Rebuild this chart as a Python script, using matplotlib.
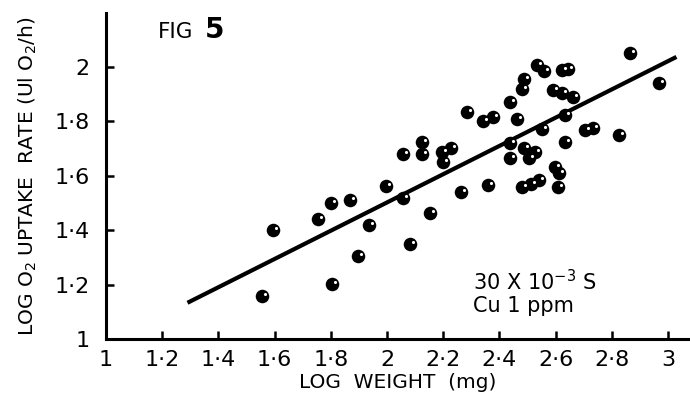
import matplotlib
matplotlib.use("Agg")
import matplotlib.pyplot as plt
import matplotlib.transforms as mtransforms
import numpy as np

# ---- data ----
log_weight = [1.555, 1.594, 1.754, 1.801, 1.868, 1.936, 1.897, 1.804, 1.996, 2.057,
              2.153, 2.082, 2.057, 2.125, 2.125, 2.196, 2.228, 2.199, 2.263, 2.285,
              2.342, 2.377, 2.359, 2.438, 2.463, 2.438, 2.438, 2.488, 2.480, 2.534,
              2.559, 2.623, 2.644, 2.591, 2.623, 2.662, 2.633, 2.552, 2.633, 2.488,
              2.527, 2.505, 2.480, 2.512, 2.541, 2.598, 2.612, 2.609, 2.705, 2.733,
              2.826, 2.865, 2.968]
log_uptake = [1.158, 1.401, 1.441, 1.500, 1.511, 1.419, 1.305, 1.202, 1.562, 1.518,
              1.463, 1.349, 1.680, 1.724, 1.680, 1.688, 1.702, 1.651, 1.540, 1.835,
              1.801, 1.816, 1.566, 1.871, 1.809, 1.721, 1.665, 1.956, 1.919, 2.007,
              1.985, 1.989, 1.993, 1.915, 1.904, 1.890, 1.824, 1.772, 1.724, 1.702,
              1.688, 1.665, 1.559, 1.570, 1.585, 1.632, 1.610, 1.559, 1.768, 1.776,
              1.750, 2.051, 1.941]

fit_slope = 0.5195
fit_intercept = 0.463
fit_x_range = [1.29, 3.03]

x_ticks = [1, 1.2, 1.4, 1.6, 1.8, 2, 2.2, 2.4, 2.6, 2.8, 3]
x_ticklabels = ["1", "1·2", "1·4", "1·6", "1·8", "2", "2·2", "2·4", "2·6", "2·8", "3"]
y_ticks = [1, 1.2, 1.4, 1.6, 1.8, 2]
y_ticklabels = ["1", "1·2", "1·4", "1·6", "1·8", "2"]

FONT = ["DejaVu Sans"]
plt.rcParams['font.family'] = FONT

W, H = 690, 405
fig = plt.figure(figsize=(W / 100, H / 100), dpi=100)
ax_left, ax_right, ax_bottom, ax_top = 106, 690, 339, 13
ax = fig.add_axes([ax_left / W, (H - ax_bottom) / H, (ax_right - ax_left) / W, (ax_bottom - ax_top) / H])

ax.set_xlim(1, 1 + (ax_right - ax_left) / 281)
ax.set_ylim(1, 1 + (ax_bottom - ax_top) / 272)

for s in ['top', 'right']:
    ax.spines[s].set_visible(False)
for s in ['left', 'bottom']:
    ax.spines[s].set_linewidth(2.2)
    ax.spines[s].set_color('black')

ax.set_xticks(x_ticks)
ax.set_xticklabels(x_ticklabels)
ax.set_yticks(y_ticks)
ax.set_yticklabels(y_ticklabels)
ax.tick_params(direction='in', length=6, width=1.8, labelsize=16)
ax.tick_params(axis='x', pad=8)
ax.tick_params(axis='y', pad=12)

# regression line
xs = np.array(fit_x_range)
ax.plot(xs, fit_slope * xs + fit_intercept, color='black', lw=3.0, solid_capstyle='butt', zorder=2)

# points
ax.scatter(log_weight, log_uptake, s=95, color='black', zorder=3, linewidths=0)
hl = mtransforms.offset_copy(ax.transData, fig=fig, x=2.0, y=1.5, units='points')
ax.scatter(log_weight, log_uptake, s=5, color='white', zorder=4, linewidths=0, transform=hl)

ax.set_xlabel("LOG  WEIGHT  (mg)", fontsize=14.5, labelpad=2)
ax.set_ylabel("LOG O$_2$ UPTAKE  RATE (Ul O$_2$/h)", fontsize=14.5, labelpad=11)

ax.text(1.185, 2.107, "FIG", fontsize=15.5, ha='left', va='baseline')
ax.text(1.35, 2.107, "5", fontsize=20, fontweight='bold', ha='left', va='baseline')

ax.text(2.305, 1.18, "30 X 10$^{-3}$ S", fontsize=15, ha='left', va='baseline')
ax.text(2.305, 1.10, "Cu 1 ppm", fontsize=15, ha='left', va='baseline')

fig.savefig("out.png", dpi=100, facecolor='white')
